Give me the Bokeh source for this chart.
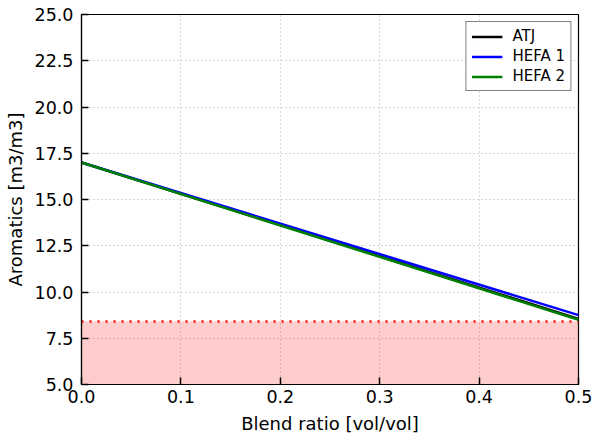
from bokeh.plotting import figure
from bokeh.models import Range1d, Legend, LegendItem, FixedTicker
from bokeh.embed import file_html
from bokeh.resources import INLINE

blend = [0.0, 0.5]
atj = [17.0, 8.55]
hefa1 = [17.0, 8.75]
hefa2 = [17.0, 8.5]
limit = 8.4
y_floor = 5.0

x_ticks = [0.0, 0.1, 0.2, 0.3, 0.4, 0.5]
y_ticks = [5.0, 7.5, 10.0, 12.5, 15.0, 17.5, 20.0, 22.5, 25.0]

FONT = "DejaVu Sans"

p = figure(width=592, height=443, output_backend="svg", toolbar_location=None,
           x_range=Range1d(0, 0.5), y_range=Range1d(5, 25),
           min_border_left=81, min_border_right=14, min_border_top=14, min_border_bottom=59)
p.background_fill_color = "white"
p.border_fill_color = "white"
p.outline_line_color = "black"
p.outline_line_width = 1.2

p.varea(x=[blend[0], blend[-1]], y1=[y_floor, y_floor], y2=[limit, limit],
        fill_color="red", fill_alpha=0.2)
p.line(x=[blend[0], blend[-1]], y=[limit, limit], line_color="red",
       line_width=2.5, line_dash="2 6")

r1 = p.line(blend, atj, line_color="black", line_width=2.5)
r2 = p.line(blend, hefa1, line_color="blue", line_width=2.5)
r3 = p.line(blend, hefa2, line_color="green", line_width=2.5)

p.xaxis.ticker = FixedTicker(ticks=x_ticks)
p.yaxis.ticker = FixedTicker(ticks=y_ticks)
p.xaxis.major_label_overrides = {t: f"{t:.1f}" for t in x_ticks}
p.yaxis.major_label_overrides = {t: f"{t:.1f}" for t in y_ticks}

for ax in (p.xaxis, p.yaxis):
    ax.major_tick_in = 7
    ax.major_tick_out = 0
    ax.minor_tick_in = 0
    ax.minor_tick_out = 0
    ax.major_tick_line_color = "black"
    ax.major_tick_line_width = 1.5
    ax.axis_line_color = "black"
    ax.axis_line_width = 1.2
    ax.major_label_text_font = FONT
    ax.major_label_text_font_size = "17.5px"
    ax.major_label_text_color = "black"
    ax.axis_label_text_font = FONT
    ax.axis_label_text_font_size = "18px"
    ax.axis_label_text_font_style = "normal"
    ax.axis_label_text_color = "black"

p.xaxis.axis_label = "Blend ratio [vol/vol]"
p.yaxis.axis_label = "Aromatics [m3/m3]"
p.xaxis.major_label_standoff = 5
p.yaxis.major_label_standoff = 8
p.xaxis.axis_label_standoff = 7
p.yaxis.axis_label_standoff = 6

p.grid.grid_line_color = "#b0b0b0"
p.grid.grid_line_dash = "1 3"
p.grid.grid_line_width = 1

legend = Legend(items=[LegendItem(label="ATJ", renderers=[r1]),
                       LegendItem(label="HEFA 1", renderers=[r2]),
                       LegendItem(label="HEFA 2", renderers=[r3])],
                location="top_right")
legend.label_text_font = FONT
legend.label_text_font_size = "15px"
legend.label_text_color = "black"
legend.border_line_color = "black"
legend.border_line_width = 1.5
legend.glyph_width = 31
legend.label_height = 17
legend.glyph_height = 17
legend.spacing = 2
legend.padding = 5
legend.margin = 7
legend.label_standoff = 10
p.add_layout(legend)

open("out.html", "w").write(file_html(p, INLINE))
